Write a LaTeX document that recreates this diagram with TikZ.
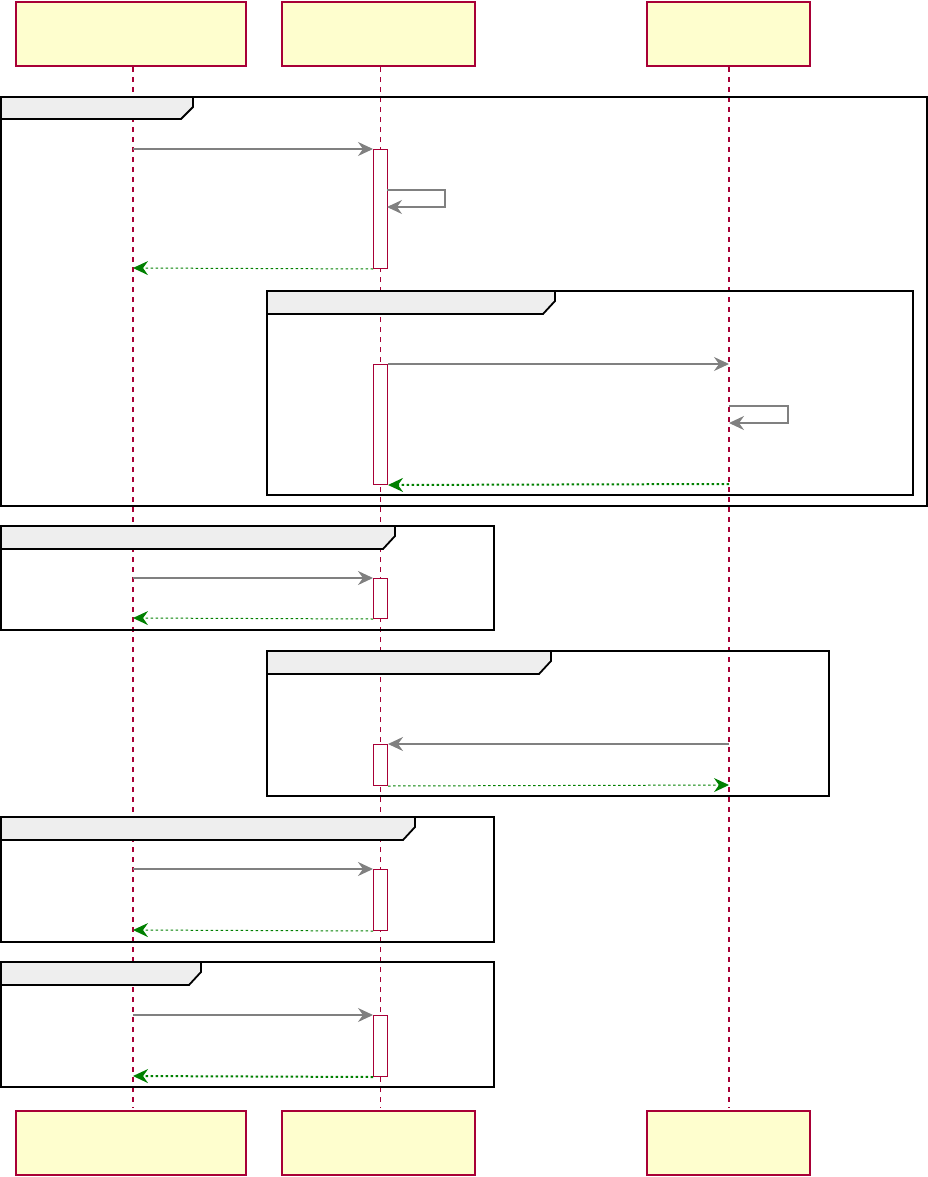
\documentclass[tikz,border=0pt]{standalone}
\usetikzlibrary{arrows.meta}
\definecolor{pborder}{HTML}{A80036}
\definecolor{pfill}{HTML}{FEFECE}
\definecolor{msggray}{HTML}{808080}
\definecolor{retgreen}{HTML}{008000}
\definecolor{tabfill}{HTML}{EEEEEE}
\tikzset{
  participant/.style={draw=pborder,fill=pfill,line width=1.8pt,inner sep=0pt,anchor=north west},
  lifeline/.style={draw=pborder,line width=1.5pt,dash pattern=on 5pt off 5pt},
  frameline/.style={draw=black,line width=2.6pt},
  tabshape/.style={draw=black,fill=tabfill,line width=1.8pt},
  actbox/.style={draw=pborder,fill=white,line width=1pt},
  calltip/.style={-{Stealth[length=15pt,width=14pt,inset=5pt]}},
  callmsg/.style={calltip,draw=msggray,line width=1.2pt},
  retmsg/.style={-{Stealth[length=15pt,width=14pt,inset=5pt,fill=retgreen]},draw=retgreen,line width=1pt,dash pattern=on 2.5pt off 2.5pt},
  dotmsg/.style={-{Stealth[length=15pt,width=14pt,inset=5pt,fill=retgreen]},draw=retgreen,line width=2pt,dash pattern=on 2.5pt off 2.5pt},
}
\newcommand{\sqframe}[6]{% x1,y1,x2,y2,tabright,tabbottom
  \draw[frameline] (#1,#2) rectangle (#3,#4);
  \draw[tabshape] (#1,#2) -- (#5,#2) -- (#5,#2+10) -- (#5-12,#6) -- (#1,#6) -- cycle;
}
\begin{document}
\begin{tikzpicture}[x=1pt,y=-1pt]
\useasboundingbox (0,0) rectangle (928,1177);
% participants
\node[participant,minimum width=230pt,minimum height=64pt] (pa) at (15,1) {};
\node[participant,minimum width=193pt,minimum height=64pt] (pb) at (281,1) {};
\node[participant,minimum width=163pt,minimum height=64pt] (pc) at (646,1) {};
\node[participant,minimum width=230pt,minimum height=64pt] (qa) at (15,1110) {};
\node[participant,minimum width=193pt,minimum height=64pt] (qb) at (281,1110) {};
\node[participant,minimum width=163pt,minimum height=64pt] (qc) at (646,1110) {};
% lifelines
\draw[lifeline] (133,67) -- (133,1108);
\draw[lifeline,line width=1pt] (380,67) -- (380,1108);
\draw[lifeline] (729,67) -- (729,1108);
% frames
\sqframe{1}{97}{927}{506}{193}{119}
\sqframe{267}{291}{913}{495}{555}{314}
\sqframe{1}{526}{494}{630}{395}{549}
\sqframe{267}{651}{829}{796}{551}{674}
\sqframe{1}{817}{494}{942}{415}{840}
\sqframe{1}{962}{494}{1087}{201}{985}
% activations
\node[actbox,anchor=north west,minimum width=14pt,minimum height=119pt,inner sep=0pt] (act1) at (373,149) {};
\node[actbox,anchor=north west,minimum width=14pt,minimum height=120pt,inner sep=0pt] (act2) at (373,364) {};
\node[actbox,anchor=north west,minimum width=14pt,minimum height=40pt,inner sep=0pt] (act3) at (373,578) {};
\node[actbox,anchor=north west,minimum width=14pt,minimum height=41pt,inner sep=0pt] (act4) at (373,744) {};
\node[actbox,anchor=north west,minimum width=14pt,minimum height=61pt,inner sep=0pt] (act5) at (373,869) {};
\node[actbox,anchor=north west,minimum width=14pt,minimum height=61pt,inner sep=0pt] (act6) at (373,1015) {};
% coordinates on lifelines
\coordinate (a1) at (133,149); \coordinate (a1r) at (133,268);
\coordinate (c2) at (729,364); \coordinate (c2r) at (729,484);
\coordinate (a3) at (133,578); \coordinate (a3r) at (133,618);
\coordinate (c4) at (729,744); \coordinate (c4r) at (729,785);
\coordinate (a5) at (133,869); \coordinate (a5r) at (133,930);
\coordinate (a6) at (133,1015); \coordinate (a6r) at (133,1076);
% group 1
\draw[callmsg] (a1) -- (act1.north west);
\draw[callmsg] (387,190) -- (445,190) -- (445,207) -- (387,207);
\draw[retmsg] (act1.south west) -- (a1r);
% group 2
\draw[callmsg] (act2.north east) -- (c2);
\draw[callmsg,line width=1.8pt] (729,406) -- (788,406) -- (788,423) -- (729,423);
\draw[dotmsg] (c2r) -- (act2.south east);
% group 3
\draw[callmsg,line width=1.8pt] (a3) -- (act3.north west);
\draw[retmsg] (act3.south west) -- (a3r);
% group 4
\draw[callmsg,line width=1.8pt] (c4) -- (act4.north east);
\draw[retmsg] (act4.south east) -- (c4r);
% group 5
\draw[callmsg,line width=1.8pt] (a5) -- (act5.north west);
\draw[retmsg] (act5.south west) -- (a5r);
% group 6
\draw[callmsg] (a6) -- (act6.north west);
\draw[dotmsg] (act6.south west) -- (a6r);
\end{tikzpicture}
\end{document}
